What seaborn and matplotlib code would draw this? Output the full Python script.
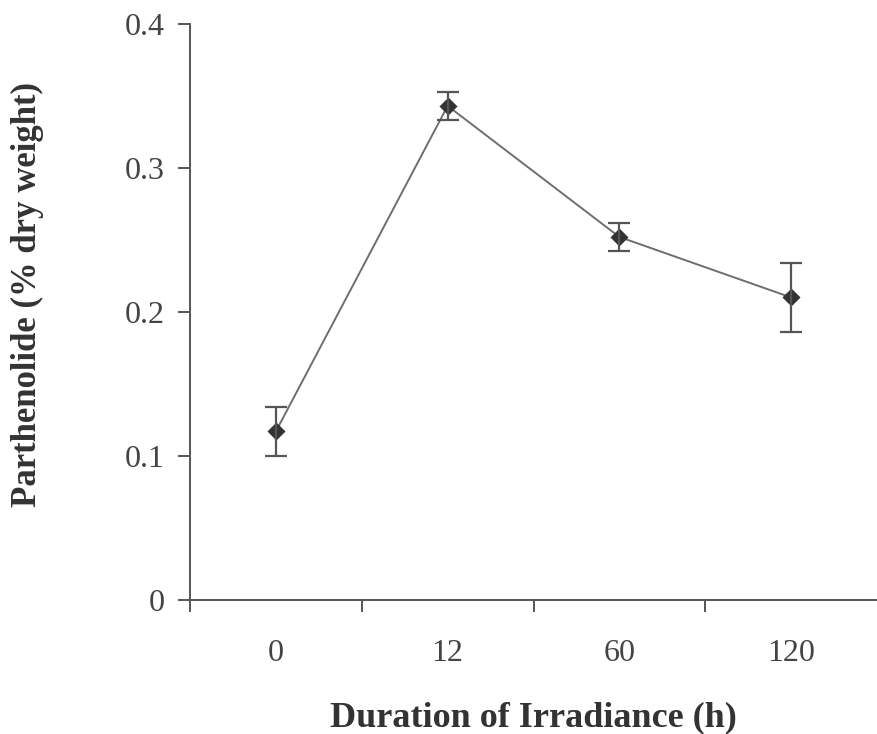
import matplotlib
matplotlib.use("Agg")
import matplotlib.pyplot as plt
import seaborn as sns
import numpy as np
import pandas as pd

# Data
durations = ["0", "12", "60", "120"]
parthenolide = [0.117, 0.343, 0.252, 0.210]
sem = [0.017, 0.0095, 0.010, 0.024]
y_ticks = [0, 0.1, 0.2, 0.3, 0.4]
y_tick_labels = ["0", "0.1", "0.2", "0.3", "0.4"]

sns.set_theme(style="white")
plt.rcParams["font.family"] = ["Liberation Serif", "DejaVu Serif"]

df = pd.DataFrame({"Duration": durations, "Parthenolide": parthenolide})

fig = plt.figure(figsize=(8.78, 7.34), dpi=100)
ax = fig.add_axes([0.2164, 0.1826, 0.7825, 0.785])

line_col = "#6e6e6e"
mark_col = "#333333"

sns.pointplot(data=df, x="Duration", y="Parthenolide", order=durations,
              errorbar=None, color=line_col, markers="D", linestyles="-",
              ax=ax, markersize=8, linewidth=1.4)
for ln in ax.lines:
    ln.set_markerfacecolor(mark_col)
    ln.set_markeredgecolor(mark_col)

ax.errorbar(np.arange(len(durations)), parthenolide, yerr=sem, fmt="none",
            ecolor="#555555", elinewidth=1.6, capsize=8, capthick=1.6, zorder=5)

ax.set_xlim(-0.5, 3.5)
ax.set_ylim(0, 0.4)
ax.set_yticks(y_ticks)
ax.set_yticklabels(y_tick_labels)
ax.set_xticks(np.arange(len(durations)))
ax.set_xticklabels(durations)
ax.set_xticks(np.arange(-0.5, len(durations) - 0.5, 1.0), minor=True)

for s in ["top", "right"]:
    ax.spines[s].set_visible(False)
for s in ["left", "bottom"]:
    ax.spines[s].set_color("#555555")
    ax.spines[s].set_linewidth(1.4)

ax.tick_params(axis="x", which="major", length=0, pad=28, labelsize=23, labelcolor="#444444")
ax.tick_params(axis="x", which="minor", length=8.5, width=1.4, color="#555555", direction="out", bottom=True)
ax.tick_params(axis="y", which="major", length=8.5, width=1.4, color="#555555", direction="out",
               left=True, pad=10, labelsize=23, labelcolor="#444444")

ax.set_xlabel("Duration of Irradiance (h)", fontsize=26, fontweight="bold", color="#333333", va="center")
ax.set_ylabel("Parthenolide (% dry weight)", fontsize=25, fontweight="bold", color="#333333", va="center")
ax.xaxis.set_label_coords(0.4993, -0.205)
ax.yaxis.set_label_coords(-0.236, 0.53)

fig.savefig("out.png", dpi=100, facecolor="white")
